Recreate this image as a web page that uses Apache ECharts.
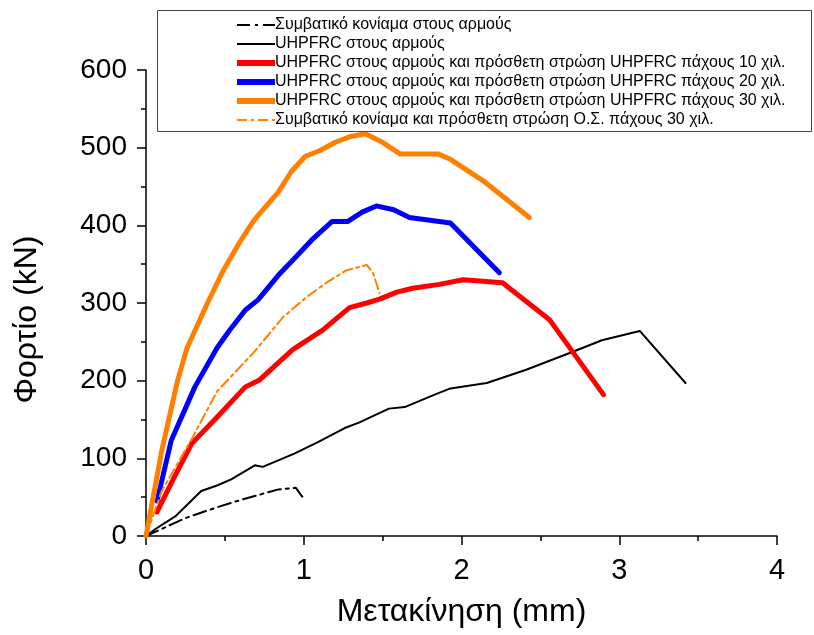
<!DOCTYPE html>
<html>
<head>
<meta charset="utf-8">
<script src="https://cdn.jsdelivr.net/npm/echarts@6/dist/echarts.min.js"></script>
<style>
  html, body { margin: 0; padding: 0; background: #fff; }
  #chart { width: 814px; height: 635px; }
</style>
</head>
<body>
<div id="chart"></div>
<script>
// μετακίνηση (mm) / φορτίο (kN), διαβασμένα από το διάγραμμα
const mortarJoints = [[0, 0], [0.25, 23], [0.45, 37], [0.61, 47], [0.84, 60], [0.95, 62], [1.0, 48]]
const uhpfrcJoints = [[0, 0], [0.06, 9], [0.19, 26], [0.35, 58], [0.45, 65], [0.54, 73], [0.69, 91], [0.74, 89],
  [0.94, 106], [1.09, 121], [1.26, 139], [1.35, 146], [1.54, 164], [1.64, 166], [1.83, 182], [1.93, 190],
  [2.16, 197], [2.41, 214], [2.69, 236], [2.89, 252], [3.13, 264], [3.42, 197]]
const uhpfrc10 = [[0.07, 31], [0.18, 76], [0.29, 119], [0.45, 153], [0.63, 192], [0.72, 201], [0.93, 240],
  [1.12, 265], [1.29, 294], [1.40, 300], [1.48, 305], [1.59, 314], [1.69, 319], [1.86, 324], [2.01, 330],
  [2.26, 326], [2.56, 278], [2.90, 182]]
const uhpfrc20 = [[0.07, 45], [0.16, 123], [0.31, 192], [0.45, 242], [0.53, 265], [0.63, 291], [0.71, 304],
  [0.84, 336], [0.93, 355], [1.06, 383], [1.18, 405], [1.28, 405], [1.37, 417], [1.46, 425], [1.57, 420],
  [1.67, 410], [1.93, 403], [2.24, 339]]
const uhpfrc30 = [[0, 0], [0.1, 110], [0.2, 200], [0.26, 242], [0.39, 300], [0.49, 342], [0.59, 377],
  [0.68, 405], [0.72, 415], [0.84, 443], [0.92, 469], [1.01, 489], [1.10, 496], [1.20, 507], [1.29, 514],
  [1.39, 518], [1.49, 508], [1.61, 492], [1.85, 492], [1.93, 485], [2.14, 457], [2.43, 410]]
const mortarLayer30 = [[0, 0], [0.1, 58], [0.29, 125], [0.45, 186], [0.69, 238], [0.87, 282], [1.02, 308],
  [1.15, 327], [1.27, 342], [1.40, 349], [1.44, 338], [1.48, 313]]

const seriesNames = [
  'Συμβατικό κονίαμα στους αρμούς',
  'UHPFRC στους αρμούς',
  'UHPFRC στους αρμούς και πρόσθετη στρώση UHPFRC πάχους 10 χιλ.',
  'UHPFRC στους αρμούς και πρόσθετη στρώση UHPFRC πάχους 20 χιλ.',
  'UHPFRC στους αρμούς και πρόσθετη στρώση UHPFRC πάχους 30 χιλ.',
  'Συμβατικό κονίαμα και πρόσθετη στρώση Ο.Σ. πάχους 30 χιλ.'
]
const xTicks = [0, 4, 1]
const yTicks = [0, 600, 100]

const font = 'Liberation Sans, Arial, sans-serif'

// χρώμα, πάχος, τύπος γραμμής για κάθε καμπύλη
const styles = [
  ['#000', 2, [13, 5, 3, 5]],
  ['#000', 2, 'solid'],
  ['#ff0000', 5, 'solid'],
  ['#0000ff', 5, 'solid'],
  ['#ff8000', 5, 'solid'],
  ['#ff8000', 2, [10, 4, 3, 4]]
]
const allData = [mortarJoints, uhpfrcJoints, uhpfrc10, uhpfrc20, uhpfrc30, mortarLayer30]

const chart = echarts.init(document.getElementById('chart'))
const option = {
  backgroundColor: '#fff',
  animation: false,
  grid: {left: 146, right: 37, top: 70, bottom: 99, outerBoundsMode: 'none'},
  legend: {
    orient: 'vertical',
    left: 234,
    top: 17,
    itemWidth: 38,
    itemHeight: 12,
    itemGap: 3,
    padding: 0,
    itemStyle: {opacity: 0},
    data: seriesNames.map((n, i) => ({
      name: n,
      lineStyle: {width: styles[i][1] === 5 ? 6 : 2, type: styles[i][2], cap: 'butt'}
    })),
    textStyle: {fontFamily: font, fontSize: 16, color: '#000', padding: [0, 0, 0, -5]}
  },
  graphic: [{
    type: 'rect',
    left: 155,
    top: 8,
    shape: {width: 654, height: 121},
    style: {fill: 'none', stroke: '#444', lineWidth: 1},
    z: 10
  }],
  xAxis: {
    type: 'value',
    min: xTicks[0], max: xTicks[1], interval: xTicks[2],
    name: 'Μετακίνηση (mm)',
    nameLocation: 'middle',
    nameGap: 60,
    nameTextStyle: {fontFamily: font, fontSize: 32, color: '#000'},
    axisLine: {lineStyle: {color: '#000', width: 1.5}},
    axisTick: {length: 9, lineStyle: {color: '#000', width: 1.5}},
    minorTick: {show: true, splitNumber: 2, length: 5, lineStyle: {color: '#000', width: 1.5}},
    splitLine: {show: false},
    axisLabel: {fontFamily: font, fontSize: 29, color: '#000', margin: 20}
  },
  yAxis: {
    type: 'value',
    min: yTicks[0], max: yTicks[1], interval: yTicks[2],
    name: 'Φορτίο (kN)',
    nameLocation: 'middle',
    nameGap: 103,
    nameTextStyle: {fontFamily: font, fontSize: 32, color: '#000', padding: [0, 33, 0, 0]},
    axisLine: {show: true, lineStyle: {color: '#000', width: 1.5}},
    axisTick: {show: true, length: 9, lineStyle: {color: '#000', width: 1.5}},
    minorTick: {show: true, splitNumber: 2, length: 5, lineStyle: {color: '#000', width: 1.5}},
    splitLine: {show: false},
    axisLabel: {fontFamily: font, fontSize: 28, color: '#000', margin: 19}
  },
  series: allData.map((d, i) => ({
    name: seriesNames[i],
    type: 'line',
    data: d,
    symbol: 'none',
    smooth: false,
    lineStyle: {color: styles[i][0], width: styles[i][1], type: styles[i][2], cap: 'round', join: 'round'},
    itemStyle: {color: styles[i][0]},
    emphasis: {disabled: true}
  }))
}
chart.setOption(option)
</script>
</body>
</html>
